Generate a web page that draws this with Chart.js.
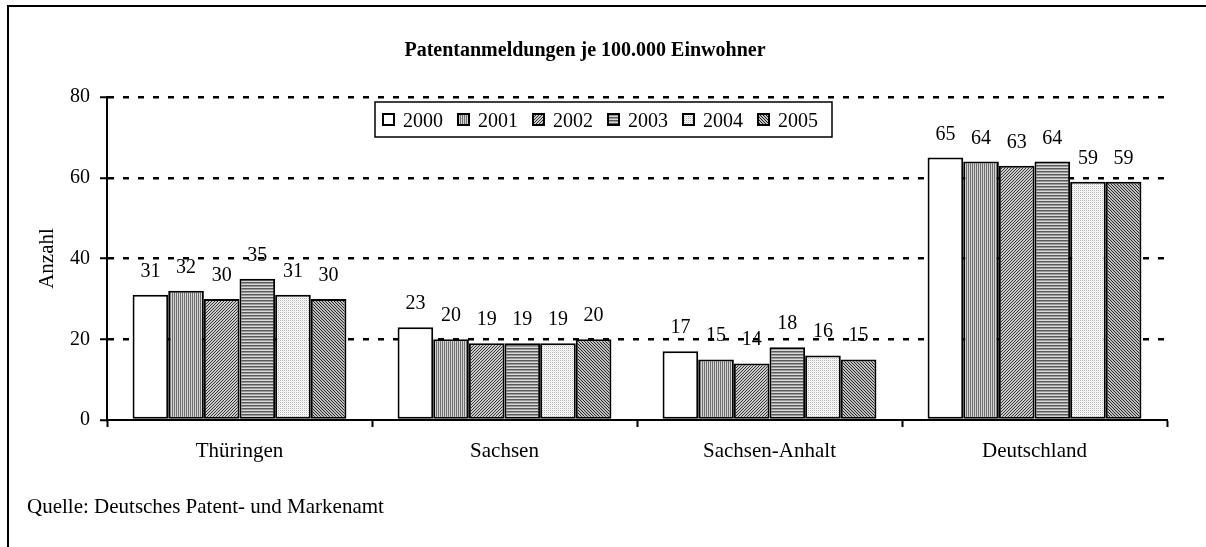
<!DOCTYPE html>
<html>
<head>
<meta charset="utf-8">
<script src="https://cdn.jsdelivr.net/npm/chart.js@4.4.1/dist/chart.umd.min.js"></script>
<style>
  html, body { margin: 0; padding: 0; background: #fff; }
  canvas { display: block; }
</style>
</head>
<body>
<canvas id="c" width="1206" height="547"></canvas>
<script>
const categories = ['Thüringen', 'Sachsen', 'Sachsen-Anhalt', 'Deutschland'];
const years = ['2000', '2001', '2002', '2003', '2004', '2005'];
const v2000 = [31, 23, 17, 65];
const v2001 = [32, 20, 15, 64];
const v2002 = [30, 19, 14, 63];
const v2003 = [35, 19, 18, 64];
const v2004 = [31, 19, 16, 59];
const v2005 = [30, 20, 15, 59];
const yTicks = [0, 20, 40, 60, 80];
const chartTitle = 'Patentanmeldungen je 100.000 Einwohner';
const yTitle = 'Anzahl';
const sourceNote = 'Quelle: Deutsches Patent- und Markenamt';

const SERIF = '"Liberation Serif", "Times New Roman", serif';

function makePattern(w, h, bg, painter) {
  const c = document.createElement('canvas');
  c.width = w; c.height = h;
  const g = c.getContext('2d');
  g.fillStyle = bg; g.fillRect(0, 0, w, h);
  painter(g);
  return document.getElementById('c').getContext('2d').createPattern(c, 'repeat');
}
const patterns = [
  '#ffffff',
  // vertical stripes
  makePattern(2, 2, '#d4d4d4', g => { g.fillStyle = '#6e6e6e'; g.fillRect(0, 0, 1, 2); }),
  // fine diagonal /
  makePattern(3, 3, '#cccccc', g => { g.fillStyle = '#333333'; g.fillRect(2,0,1,1); g.fillRect(1,1,1,1); g.fillRect(0,2,1,1); }),
  // horizontal stripes
  makePattern(3, 3, '#dadada', g => { g.fillStyle = '#5a5a5a'; g.fillRect(0, 0, 3, 1); g.fillStyle = '#999999'; g.fillRect(0, 1, 3, 1); }),
  // light dots
  makePattern(2, 2, '#ffffff', g => { g.fillStyle = '#b4b4b4'; g.fillRect(0, 0, 1, 1); g.fillStyle = '#e6e6e6'; g.fillRect(1, 1, 1, 1); }),
  // dense diagonal \
  makePattern(3, 3, '#c0c0c0', g => { g.fillStyle = '#262626'; g.fillRect(0,0,1,1); g.fillRect(1,1,1,1); g.fillRect(2,2,1,1); }),
];

const seriesValues = [v2000, v2001, v2002, v2003, v2004, v2005];
const datasets = years.map((y, i) => ({
  label: y,
  data: seriesValues[i],
  backgroundColor: patterns[i],
  borderColor: '#000',
  borderWidth: 2,
  borderSkipped: false,
  categoryPercentage: 0.807,
  barPercentage: 1.0,
}));

const framePlugin = {
  id: 'frame',
  beforeDraw(chart) {
    const ctx = chart.ctx;
    ctx.save();
    ctx.fillStyle = '#fff';
    ctx.fillRect(0, 0, chart.width, chart.height);
    ctx.strokeStyle = '#000';
    ctx.lineWidth = 2;
    ctx.strokeRect(8, 6, chart.width + 50, chart.height + 50);
    ctx.fillStyle = '#000';
    ctx.font = 'bold 20px ' + SERIF;
    ctx.textAlign = 'center';
    ctx.textBaseline = 'alphabetic';
    ctx.fillText(chartTitle, 585, 56);
    ctx.font = '21px ' + SERIF;
    ctx.textAlign = 'left';
    ctx.fillText(sourceNote, 27, 513);
    ctx.restore();
  }
};

const labelsPlugin = {
  id: 'valueLabels',
  afterDatasetsDraw(chart) {
    const ctx = chart.ctx;
    ctx.save();
    ctx.fillStyle = '#000';
    ctx.font = '20px ' + SERIF;
    ctx.textAlign = 'center';
    ctx.textBaseline = 'alphabetic';
    chart.data.datasets.forEach((ds, di) => {
      const meta = chart.getDatasetMeta(di);
      meta.data.forEach((el, i) => {
        ctx.fillText(String(ds.data[i]), el.x, el.y - 18);
      });
    });
    ctx.restore();
  }
};

const legendPlugin = {
  id: 'boxLegend',
  afterDraw(chart) {
    const ctx = chart.ctx;
    const x0 = 375, y0 = 102, h = 35;
    ctx.save();
    ctx.font = '20px ' + SERIF;
    const sw = 13, gapIn = 8, gapOut = 14, padL = 7;
    let total = padL;
    const items = chart.data.datasets.map(ds => ({ ds, w: ctx.measureText(ds.label).width }));
    items.forEach((it, i) => { total += sw + gapIn + it.w + (i < items.length - 1 ? gapOut : 0); });
    total += 14;
    ctx.fillStyle = '#fff';
    ctx.fillRect(x0, y0, total, h);
    ctx.strokeStyle = '#000';
    ctx.lineWidth = 1.5;
    ctx.strokeRect(x0, y0, total, h);
    let x = x0 + padL;
    items.forEach(it => {
      ctx.fillStyle = it.ds.backgroundColor;
      ctx.fillRect(x, 113, sw, sw);
      ctx.lineWidth = 2;
      ctx.strokeStyle = '#000';
      ctx.strokeRect(x + 1, 114, sw - 2, sw - 2);
      ctx.fillStyle = '#000';
      ctx.textAlign = 'left';
      ctx.textBaseline = 'alphabetic';
      ctx.fillText(it.ds.label, x + sw + gapIn, 127);
      x += sw + gapIn + it.w + gapOut;
    });
    ctx.restore();
  }
};

new Chart(document.getElementById('c'), {
  type: 'bar',
  data: { labels: categories, datasets },
  plugins: [framePlugin, labelsPlugin, legendPlugin],
  options: {
    responsive: false,
    animation: false,
    devicePixelRatio: 1,
    layout: { padding: { left: 0, right: 39, top: 97, bottom: 0 } },
    plugins: {
      legend: { display: false },
      title: { display: false },
      tooltip: { enabled: false },
    },
    scales: {
      x: {
        grid: {
          display: true,
          drawOnChartArea: false,
          offset: true,
          tickLength: 7,
          tickWidth: 2,
          tickColor: '#000',
          color: '#000',
        },
        border: { display: true, color: '#000', width: 2 },
        ticks: {
          color: '#000',
          font: { family: SERIF, size: 21 },
          padding: 12,
          maxRotation: 0,
        },
        afterFit(scale) { scale.height = 127; },
      },
      y: {
        min: 0,
        max: 80,
        afterBuildTicks(scale) { scale.ticks = yTicks.map(v => ({ value: v })); },
        grid: {
          color: ctx => (ctx.tick && ctx.tick.value === 0) ? 'rgba(0,0,0,0)' : '#000',
          lineWidth: 2.5,
          tickLength: 7,
          tickWidth: 2,
          tickColor: '#000',
          tickBorderDash: [],
        },
        border: { display: true, color: '#000', width: 2, dash: [6, 9] },
        ticks: {
          color: '#000',
          font: { family: SERIF, size: 20 },
          padding: 10,
        },
        title: {
          display: true,
          text: yTitle,
          color: '#000',
          font: { family: SERIF, size: 21 },
          padding: { top: 35, bottom: 0 },
        },
        afterFit(scale) { scale.width = 107; },
      },
    },
  },
});
</script>
</body>
</html>
